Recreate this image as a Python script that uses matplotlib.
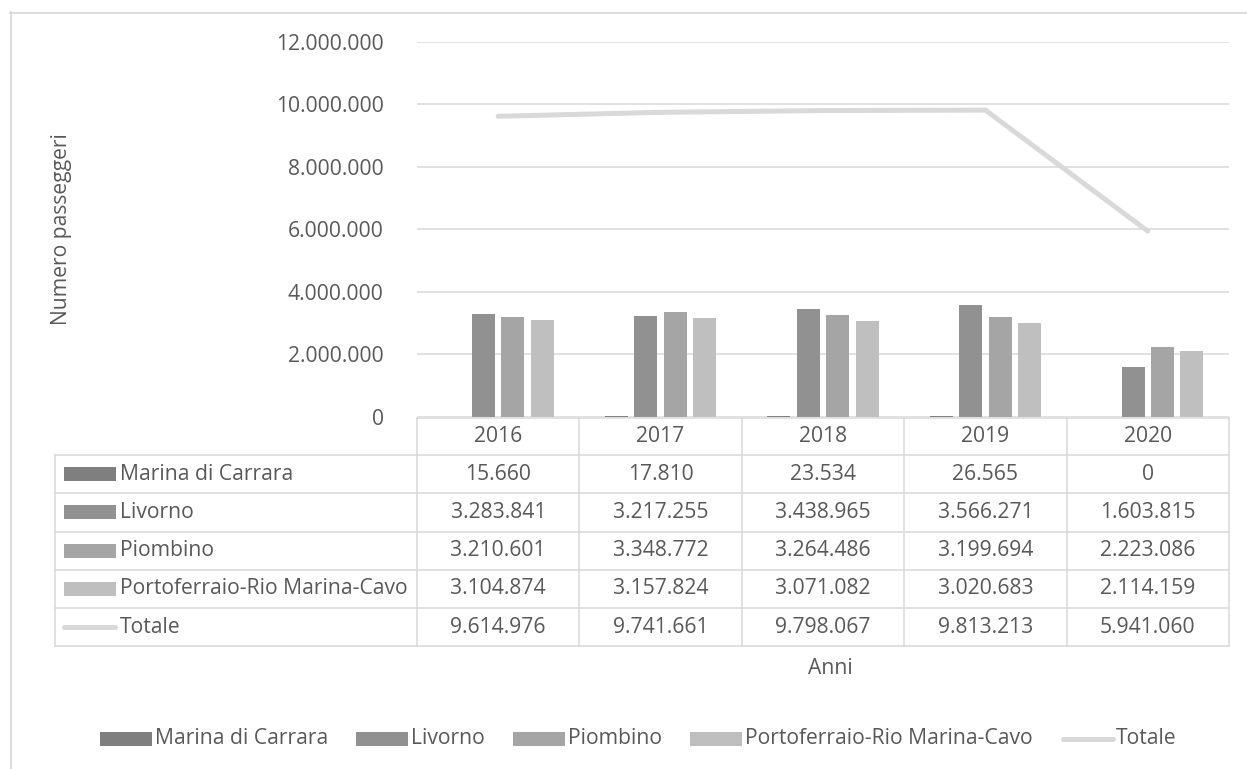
import matplotlib
matplotlib.use("Agg")
import matplotlib.pyplot as plt
from matplotlib.lines import Line2D
from matplotlib.patches import Rectangle

# Passenger data per port, 2016-2020
years = ["2016", "2017", "2018", "2019", "2020"]
series_names = ["Marina di Carrara", "Livorno", "Piombino", "Portoferraio-Rio Marina-Cavo"]
marina_di_carrara = [15660, 17810, 23534, 26565, 0]
livorno = [3283841, 3217255, 3438965, 3566271, 1603815]
piombino = [3210601, 3348772, 3264486, 3199694, 2223086]
portoferraio = [3104874, 3157824, 3071082, 3020683, 2114159]
totale = [9614976, 9741661, 9798067, 9813213, 5941060]
yticks = [0, 2000000, 4000000, 6000000, 8000000, 10000000, 12000000]

bar_colors = ["#7f7f7f", "#919191", "#a5a5a5", "#bfbfbf"]
line_color = "#d9d9d9"
grid_color = "#d9d9d9"
text_color = "#595959"
FONT = "Open Sans"
FS = 15.2
LINE_W = 3.6

W, H = 1247, 769
fig = plt.figure(figsize=(W / 100, H / 100), dpi=100)
fig.patch.set_facecolor("white")


def fx(x):
    return x / W


def fy(y):
    return 1 - y / H


# plot area in pixel coordinates
left, right, top, bottom = 417, 1229, 41.7, 417.0
ax = fig.add_axes([fx(left), fy(bottom), fx(right) - fx(left), fy(top) - fy(bottom)])
ax.set_xlim(-0.5, 4.5)
ax.set_ylim(0, 12000000)
for s in ax.spines.values():
    s.set_visible(False)
ax.set_xticks([])
ax.set_yticks(yticks)
ax.set_yticklabels([f"{v:,}".replace(",", ".") for v in yticks],
                   fontsize=FS, color=text_color, family=FONT)
ax.tick_params(axis="y", length=0, pad=24)
ax.yaxis.grid(True, color=grid_color, linewidth=1.1)
ax.set_axisbelow(True)

cat_px = (right - left) / 5
slot = 29.4 / cat_px
bw = 23.0 / cat_px
all_series = [marina_di_carrara, livorno, piombino, portoferraio]
xs = list(range(len(years)))
for k, (vals, col) in enumerate(zip(all_series, bar_colors)):
    ax.bar([x + (k - 1.5) * slot for x in xs], vals, width=bw, color=col,
           zorder=2, linewidth=0)
ax.plot(xs, totale, color=line_color, linewidth=LINE_W, solid_capstyle="round",
        solid_joinstyle="round", zorder=3)

# data table below the plot
tcol = grid_color
tlw = 1.1
tbl_left = 55
row_edges = [455.0, 493.3, 531.5, 569.7, 607.9, 646.3]
year_top = 418.0


def hline(y, x0, x1):
    fig.add_artist(Line2D([fx(x0), fx(x1)], [fy(y), fy(y)], color=tcol, lw=tlw))


def vline(x, y0, y1):
    fig.add_artist(Line2D([fx(x), fx(x)], [fy(y0), fy(y1)], color=tcol, lw=tlw))


hline(year_top, left, right)
for y in row_edges:
    hline(y, tbl_left, right)
vline(tbl_left, row_edges[0], row_edges[-1])
for k in range(6):
    vline(left + k * cat_px, year_top, row_edges[-1])

for i, yr in enumerate(years):
    fig.text(fx(left + (i + 0.5) * cat_px), fy((year_top + row_edges[0]) / 2), yr,
             ha="center", va="center", fontsize=FS, color=text_color, family=FONT)

rows = list(zip(series_names + ["Totale"], all_series + [totale]))
for r, (name, vals) in enumerate(rows):
    yc = (row_edges[r] + row_edges[r + 1]) / 2
    if r < 4:
        fig.add_artist(Rectangle((fx(64), fy(yc + 7)), fx(52), 14 / H,
                                 color=bar_colors[r], linewidth=0))
    else:
        fig.add_artist(Line2D([fx(64), fx(115)], [fy(yc), fy(yc)], color=line_color,
                              lw=LINE_W, solid_capstyle="round"))
    fig.text(fx(120), fy(yc), name, ha="left", va="center", fontsize=FS,
             color=text_color, family=FONT)
    for i, v in enumerate(vals):
        fig.text(fx(left + (i + 0.5) * cat_px), fy(yc), f"{v:,}".replace(",", "."),
                 ha="center", va="center", fontsize=FS, color=text_color, family=FONT)

# axis titles
fig.text(fx(62), fy(229), "Numero passeggeri", rotation=90, ha="center", va="center",
         fontsize=FS, color=text_color, family=FONT)
fig.text(fx(830), fy(669), "Anni", ha="center", va="center",
         fontsize=FS, color=text_color, family=FONT)

# legend along the bottom
renderer = fig.canvas.get_renderer()
leg_y = 739
x = 100
labels = series_names + ["Totale"]
for k, name in enumerate(labels):
    if k < 4:
        fig.add_artist(Rectangle((fx(x), fy(leg_y + 7)), fx(52), 14 / H,
                                 color=bar_colors[k], linewidth=0))
    else:
        fig.add_artist(Line2D([fx(x + 2), fx(x + 52)], [fy(leg_y), fy(leg_y)],
                              color=line_color, lw=LINE_W, solid_capstyle="round"))
    t = fig.text(fx(x + 55), fy(leg_y), name, ha="left", va="center", fontsize=FS,
                 color=text_color, family=FONT)
    tw = t.get_window_extent(renderer=renderer).width
    x = x + 55 + tw + 28

# chart outline
fig.add_artist(Line2D([fx(10.5), fx(10.5)], [fy(12), fy(H)], color=tcol, lw=1.3))
fig.add_artist(Line2D([fx(10), fx(W)], [fy(12.5), fy(12.5)], color=tcol, lw=1.3))

fig.savefig("out.png", dpi=100)
